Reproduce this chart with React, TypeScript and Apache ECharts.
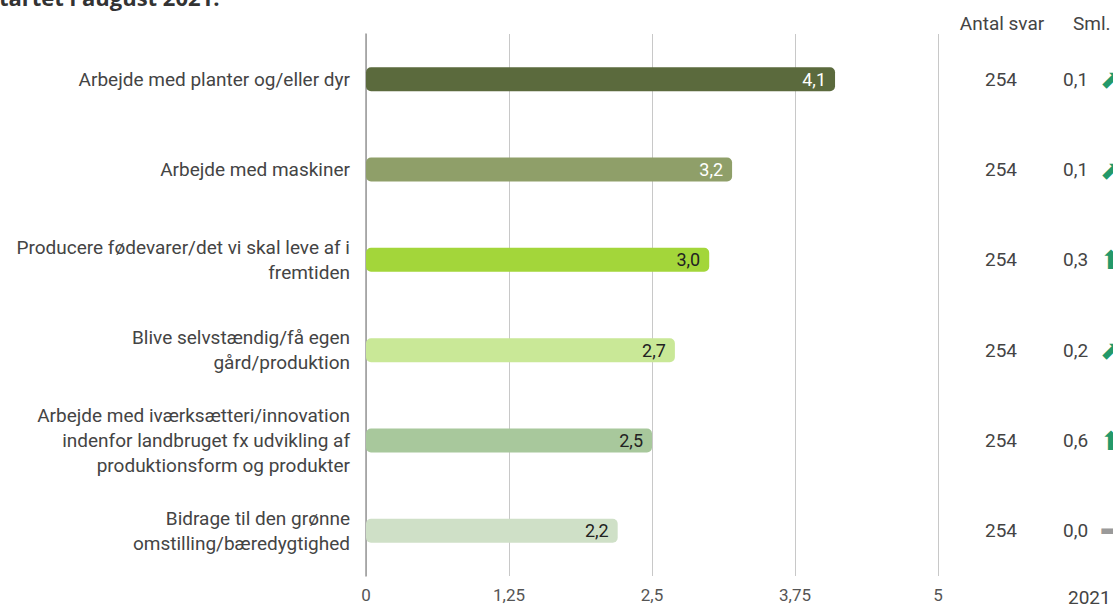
import React, { useEffect, useRef } from "react";
import * as echarts from "echarts";

const categories = [
  "Arbejde med planter og/eller dyr",
  "Arbejde med maskiner",
  "Producere fødevarer/det vi skal leve af i\nfremtiden",
  "Blive selvstændig/få egen\ngård/produktion",
  "Arbejde med iværksætteri/innovation\nindenfor landbruget fx udvikling af\nproduktionsform og produkter",
  "Bidrage til den grønne\nomstilling/bæredygtighed",
];
const values = [4.1, 3.2, 3.0, 2.7, 2.5, 2.2];
const barColors = ["#5b6a3d", "#8f9f69", "#a3d63a", "#c9e897", "#a8c89c", "#cfe0c7"];
const labelColors = ["#ffffff", "#ffffff", "#222222", "#222222", "#222222", "#222222"];
const antalSvar = ["254", "254", "254", "254", "254", "254"];
const sml = ["0,1", "0,1", "0,3", "0,2", "0,6", "0,0"];
const trend = ["ne", "ne", "up", "ne", "up", "flat"];
const xTicks = { min: 0, max: 5, interval: 1.25 };

const font = "Roboto, 'Noto Sans', sans-serif";

export default function App() {
  const ref = useRef<HTMLDivElement>(null);
  useEffect(() => {
    if (!ref.current) return;
    const chart = echarts.init(ref.current, undefined, { renderer: "svg" });
    const arrowGlyph: Record<string, string> = { ne: "{ne|⬈}", up: "{up|⬆}", flat: "{flat|➡}" };
    chart.setOption({
      animation: false,
      textStyle: { fontFamily: font },
      grid: { left: 366, right: 175, top: 34, bottom: 29, containLabel: false, outerBoundsMode: "none" },
      xAxis: {
        type: "value",
        min: xTicks.min,
        max: xTicks.max,
        interval: xTicks.interval,
        axisLine: { show: false },
        axisTick: { show: false },
        axisLabel: {
          fontSize: 17,
          color: "#555",
          margin: 10,
          fontFamily: font,
          formatter: (v: number) => String(v).replace(".", ","),
        },
        splitLine: { lineStyle: { color: "#c8c8c8", width: 1 } },
      },
      yAxis: [
        {
          type: "category",
          inverse: true,
          data: categories,
          axisTick: { show: false },
          axisLine: { show: true, lineStyle: { color: "#9a9a9a", width: 1.5 } },
          axisLabel: { fontSize: 19, color: "#444", lineHeight: 25, margin: 16, fontFamily: font, align: "right" },
        },
        {
          type: "category",
          inverse: true,
          position: "right",
          offset: 39,
          data: categories,
          axisTick: { show: false },
          axisLine: { show: false },
          axisLabel: {
            fontSize: 19,
            color: "#444",
            margin: 8,
            fontFamily: font,
            formatter: (_v: string, i: number) => antalSvar[i],
          },
        },
        {
          type: "category",
          inverse: true,
          position: "right",
          offset: 117,
          data: categories,
          axisTick: { show: false },
          axisLine: { show: false },
          axisLabel: {
            fontSize: 19,
            color: "#444",
            margin: 8,
            fontFamily: font,
            formatter: (_v: string, i: number) => sml[i] + arrowGlyph[trend[i]],
            rich: {
              ne: { fontSize: 26, color: "#24996a", fontFamily: "DejaVu Sans", padding: [0, 0, 0, 12] },
              up: { fontSize: 26, color: "#24996a", fontFamily: "DejaVu Sans", padding: [0, 0, 0, 12] },
              flat: { fontSize: 24, color: "#9a9a9a", fontFamily: "DejaVu Sans", padding: [0, 0, 0, 12] },
            },
          },
        },
      ],
      series: [
        {
          type: "bar",
          yAxisIndex: 0,
          barWidth: 24,
          data: values.map((v, i) => ({
            value: v,
            itemStyle: { color: barColors[i], borderRadius: 5 },
            label: { color: labelColors[i] },
          })),
          label: {
            show: true,
            position: "insideRight",
            distance: 9,
            fontSize: 18,
            fontFamily: font,
            formatter: (p: any) => p.value.toFixed(1).replace(".", ","),
          },
        },
      ],
      graphic: [
        {
          type: "text",
          left: -12,
          top: -14,
          style: {
            text: "startet i august 2021.",
            font: "bold 22px 'Open Sans', sans-serif",
            fill: "#333",
          },
        },
        {
          type: "text",
          x: 1002,
          y: 23,
          style: { text: "Antal svar", font: "19px Roboto, sans-serif", fill: "#444", align: "center", verticalAlign: "middle" },
        },
        {
          type: "text",
          x: 1073,
          y: 23,
          style: { text: "Sml.", font: "19px Roboto, sans-serif", fill: "#444", align: "left", verticalAlign: "middle" },
        },
        {
          type: "text",
          x: 1068,
          y: 597,
          style: { text: "2021", font: "19px Roboto, sans-serif", fill: "#444", align: "left", verticalAlign: "middle" },
        },
      ],
    });
    return () => chart.dispose();
  }, []);
  return <div ref={ref} style={{ position: "absolute", left: 0, top: 0, width: 1113, height: 605 }} />;
}
